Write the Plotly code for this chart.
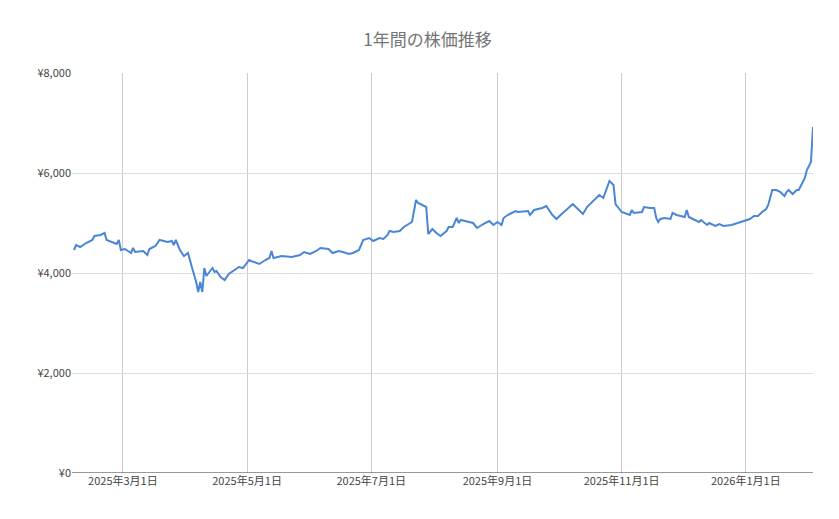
import plotly.graph_objects as go

dates = [
    "2025-02-05", "2025-02-06", "2025-02-08", "2025-02-11", "2025-02-14", "2025-02-15", "2025-02-18",
    "2025-02-20", "2025-02-21", "2025-02-26", "2025-02-27", "2025-02-28", "2025-03-02", "2025-03-05",
    "2025-03-06", "2025-03-07", "2025-03-11", "2025-03-13", "2025-03-14", "2025-03-17", "2025-03-19",
    "2025-03-23", "2025-03-25", "2025-03-26", "2025-03-27", "2025-03-29", "2025-03-31", "2025-04-02",
    "2025-04-04", "2025-04-06", "2025-04-07", "2025-04-08", "2025-04-09", "2025-04-10", "2025-04-11",
    "2025-04-12", "2025-04-14", "2025-04-15", "2025-04-16", "2025-04-18", "2025-04-20", "2025-04-22",
    "2025-04-25", "2025-04-27", "2025-04-29", "2025-05-02", "2025-05-03", "2025-05-07", "2025-05-10",
    "2025-05-12", "2025-05-13", "2025-05-14", "2025-05-18", "2025-05-23", "2025-05-27", "2025-05-29",
    "2025-06-01", "2025-06-04", "2025-06-06", "2025-06-10", "2025-06-12", "2025-06-15", "2025-06-17",
    "2025-06-20", "2025-06-22", "2025-06-25", "2025-06-27", "2025-06-30", "2025-07-02", "2025-07-05",
    "2025-07-07", "2025-07-09", "2025-07-10", "2025-07-12", "2025-07-15", "2025-07-17", "2025-07-21",
    "2025-07-23", "2025-07-24", "2025-07-28", "2025-07-29", "2025-07-31", "2025-08-02", "2025-08-04",
    "2025-08-07", "2025-08-08", "2025-08-10", "2025-08-12", "2025-08-13", "2025-08-14", "2025-08-18",
    "2025-08-20", "2025-08-22", "2025-08-25", "2025-08-28", "2025-08-30", "2025-09-01", "2025-09-03",
    "2025-09-04", "2025-09-06", "2025-09-08", "2025-09-10", "2025-09-11", "2025-09-16", "2025-09-17",
    "2025-09-19", "2025-09-23", "2025-09-25", "2025-09-28", "2025-09-30", "2025-10-02", "2025-10-06",
    "2025-10-08", "2025-10-11", "2025-10-13", "2025-10-15", "2025-10-16", "2025-10-18", "2025-10-21",
    "2025-10-23", "2025-10-25", "2025-10-26", "2025-10-28", "2025-10-29", "2025-11-01", "2025-11-05",
    "2025-11-06", "2025-11-07", "2025-11-11", "2025-11-12", "2025-11-15", "2025-11-17", "2025-11-18",
    "2025-11-19", "2025-11-20", "2025-11-22", "2025-11-25", "2025-11-26", "2025-11-28", "2025-12-01",
    "2025-12-02", "2025-12-03", "2025-12-04", "2025-12-06", "2025-12-08", "2025-12-09", "2025-12-10",
    "2025-12-13", "2025-12-14", "2025-12-17", "2025-12-19", "2025-12-21", "2025-12-25", "2025-12-30",
    "2026-01-03", "2026-01-05", "2026-01-07", "2026-01-09", "2026-01-11", "2026-01-12", "2026-01-14",
    "2026-01-16", "2026-01-18", "2026-01-20", "2026-01-21", "2026-01-22", "2026-01-24", "2026-01-26",
    "2026-01-27", "2026-01-30", "2026-01-31", "2026-02-02", "2026-02-03",
]
prices = [
    4460, 4560, 4520, 4600, 4660, 4740, 4760, 4800, 4660, 4580, 4660, 4460, 4480, 4400,
    4500, 4420, 4440, 4360, 4480, 4540, 4660, 4620, 4640, 4560, 4660, 4460, 4340, 4400,
    4100, 3820, 3620, 3820, 3620, 4100, 3940, 4000, 4100, 4020, 4040, 3920, 3860, 3980,
    4060, 4120, 4100, 4260, 4240, 4180, 4260, 4300, 4440, 4300, 4340, 4320, 4360, 4420,
    4380, 4440, 4500, 4480, 4400, 4440, 4420, 4380, 4400, 4460, 4660, 4700, 4640, 4700,
    4680, 4760, 4840, 4820, 4840, 4920, 5020, 5460, 5400, 5320, 4780, 4880, 4800, 4740,
    4840, 4920, 4920, 5100, 5000, 5060, 5020, 5000, 4900, 4980, 5040, 4960, 5020, 4960,
    5100, 5160, 5200, 5240, 5220, 5240, 5160, 5260, 5300, 5340, 5160, 5080, 5160, 5320,
    5380, 5260, 5180, 5320, 5360, 5460, 5560, 5500, 5740, 5840, 5760, 5380, 5220, 5160,
    5260, 5200, 5220, 5320, 5300, 5300, 5100, 5020, 5080, 5100, 5080, 5200, 5160, 5140,
    5120, 5260, 5120, 5080, 5040, 5020, 5060, 4960, 5000, 4940, 4980, 4940, 4960, 5020,
    5080, 5140, 5140, 5220, 5280, 5360, 5660, 5660, 5620, 5540, 5620, 5660, 5580, 5660,
    5660, 5900, 6060, 6220, 6920,
]
xtick_vals = ["2025-03-01", "2025-05-01", "2025-07-01", "2025-09-01", "2025-11-01", "2026-01-01"]
xtick_text = ["2025年3月1日", "2025年5月1日", "2025年7月1日", "2025年9月1日", "2025年11月1日", "2026年1月1日"]
ytick_vals = [0, 2000, 4000, 6000, 8000]
ytick_text = ["¥0", "¥2,000", "¥4,000", "¥6,000", "¥8,000"]

fig = go.Figure(go.Scatter(x=dates, y=prices, mode="lines",
                           line=dict(color="#4a86d4", width=2)))

fig.update_layout(
    width=839, height=519,
    margin=dict(l=64, r=34, t=65, b=54),
    paper_bgcolor="white", plot_bgcolor="white",
    font=dict(family="Noto Sans CJK JP, Roboto, sans-serif", size=11, color="#444"),
    title=dict(text="1年間の株価推移", x=0.5, xanchor="center", y=0.95,
               font=dict(size=17, color="#757575")),
    showlegend=False,
)
fig.update_xaxes(range=["2025-02-04", "2026-02-03"], tickvals=xtick_vals, ticktext=xtick_text,
                 showgrid=True, gridcolor="#cccccc", zeroline=False, showline=False, ticks="")
fig.update_yaxes(range=[0, 8000], tickvals=ytick_vals, ticktext=ytick_text,
                 showgrid=True, gridcolor="#dddddd", zeroline=False, ticks="", showline=False)
# bottom axis line at zero
fig.add_hline(y=0, line=dict(color="#333", width=1))

fig.write_html("out.html")
